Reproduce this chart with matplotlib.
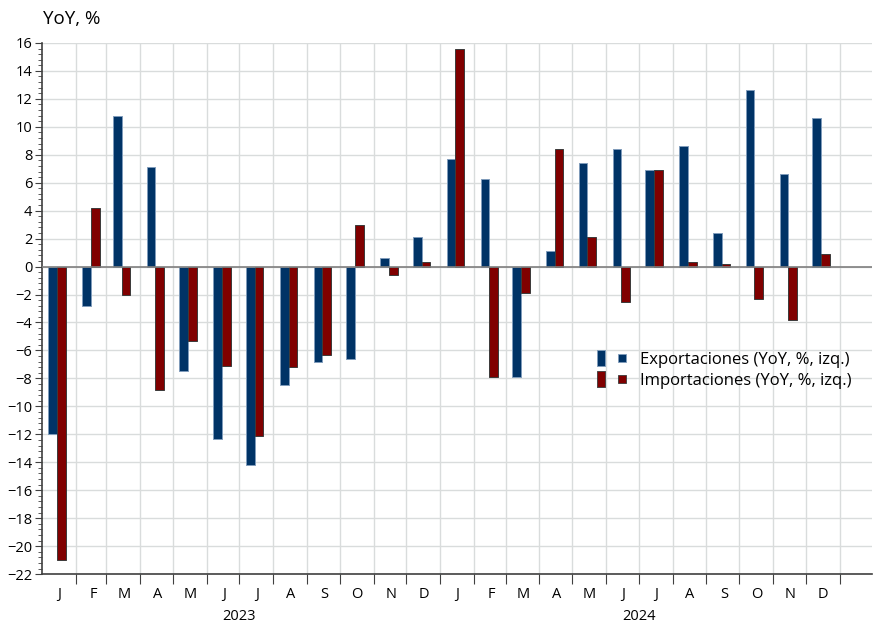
import datetime as dt
import numpy as np
import matplotlib
matplotlib.use("Agg")
import matplotlib.pyplot as plt
import matplotlib.dates as mdates
from matplotlib.lines import Line2D
from matplotlib.legend_handler import HandlerTuple
from matplotlib.ticker import MultipleLocator, AutoMinorLocator, FixedLocator, NullFormatter

plt.rcParams['font.family'] = ['Open Sans', 'DejaVu Sans']

# data (YoY %, monthly Jan 2023 - Dec 2024)
years = [2023] * 12 + [2024] * 12
months = list(range(1, 13)) * 2
month_labels = ["J", "F", "M", "A", "M", "J", "J", "A", "S", "O", "N", "D"] * 2
exports = [-12.0, -2.8, 10.8, 7.1, -7.5, -12.3, -14.2, -8.5, -6.8, -6.6, 0.6, 2.1,
           7.7, 6.3, -7.9, 1.1, 7.4, 8.4, 6.9, 8.6, 2.4, 12.6, 6.6, 10.6]
imports = [-21.0, 4.2, -2.0, -8.8, -5.3, -7.1, -12.1, -7.2, -6.3, 3.0, -0.6, 0.3,
           15.6, -7.9, -1.9, 8.4, 2.1, -2.5, 6.9, 0.3, 0.2, -2.3, -3.8, 0.9]
year_labels = ["2023", "2024"]

blue = "#003366"
red = "#800000"
blue_edge = "#7f9cbb"
red_edge = "#3a3a3a"

month_start = np.array([mdates.date2num(dt.date(y, m, 1)) for y, m in zip(years, months)])
centers = month_start + 14
w = 8

fig = plt.figure(figsize=(8.74, 6.22), dpi=100)
ax = fig.add_axes([0.048, 0.077, 0.95, 0.854])

ax.bar(centers - w / 2, exports, width=w, color=blue, edgecolor=blue_edge, linewidth=0.7, zorder=3)
ax.bar(centers + w / 2, imports, width=w, color=red, edgecolor=red_edge, linewidth=0.7, zorder=3)

ax.set_ylim(-22, 16)
ax.set_xlim(mdates.date2num(dt.date(2023, 1, 1)), mdates.date2num(dt.date(2025, 1, 31)))

# y axis
ax.yaxis.set_major_locator(MultipleLocator(2))
ax.yaxis.set_minor_locator(AutoMinorLocator(5))
ax.tick_params(axis="y", which="major", length=5, color="#404040", labelsize=10.5, pad=2)
ax.tick_params(axis="y", which="minor", length=3, color="#404040")

# x axis: ticks at month boundaries, labels mid-month
bounds = list(month_start[1:]) + [mdates.date2num(dt.date(2025, 1, 1))]
ax.xaxis.set_major_locator(FixedLocator(bounds))
ax.xaxis.set_major_formatter(NullFormatter())
ax.xaxis.set_minor_locator(FixedLocator(month_start + 16))
ax.set_xticklabels(month_labels, minor=True)
ax.tick_params(axis="x", which="major", length=7, color="#404040", direction="out")
ax.tick_params(axis="x", which="minor", length=0, labelsize=10.5, pad=9)

for yl in year_labels:
    xm = mdates.date2num(dt.date(int(yl), 7, 1))
    ax.text(xm, -0.065, yl, transform=ax.get_xaxis_transform(), ha="center", va="top", fontsize=10.5)

ax.grid(True, which="major", color="#d9dcdc", linewidth=1, zorder=0)
ax.axhline(0, color="#7f7f7f", linewidth=1.2, zorder=4)

for s in ["top", "right"]:
    ax.spines[s].set_visible(False)
for s in ["left", "bottom"]:
    ax.spines[s].set_color("#404040")
    ax.spines[s].set_linewidth(1.2)

fig.text(0.049, 0.969, "YoY, %", fontsize=13.5, ha="left", va="center")

tall = [(-0.22, -0.5), (0.22, -0.5), (0.22, 0.5), (-0.22, 0.5), (-0.22, -0.5)]
def entry(c, ec):
    a = Line2D([], [], linestyle="none", marker=tall, markersize=12, markerfacecolor=c, markeredgecolor=ec, markeredgewidth=0.6)
    b = Line2D([], [], linestyle="none", marker="s", markersize=5.5, markerfacecolor=c, markeredgecolor=ec, markeredgewidth=0.6)
    return (a, b)

leg = ax.legend([entry(blue, blue_edge), entry(red, red_edge)],
                ["Exportaciones (YoY, %, izq.)", "Importaciones (YoY, %, izq.)"],
                handler_map={tuple: HandlerTuple(ndivide=None, pad=0.83)},
                loc="center left", bbox_to_anchor=(0.684, 0.404), bbox_transform=fig.transFigure,
                frameon=False, fontsize=12, handlelength=1.62, labelspacing=0.3,
                handletextpad=0.9, borderpad=0, borderaxespad=0)
leg.set_zorder(6)

fig.savefig("out.png", dpi=100)
